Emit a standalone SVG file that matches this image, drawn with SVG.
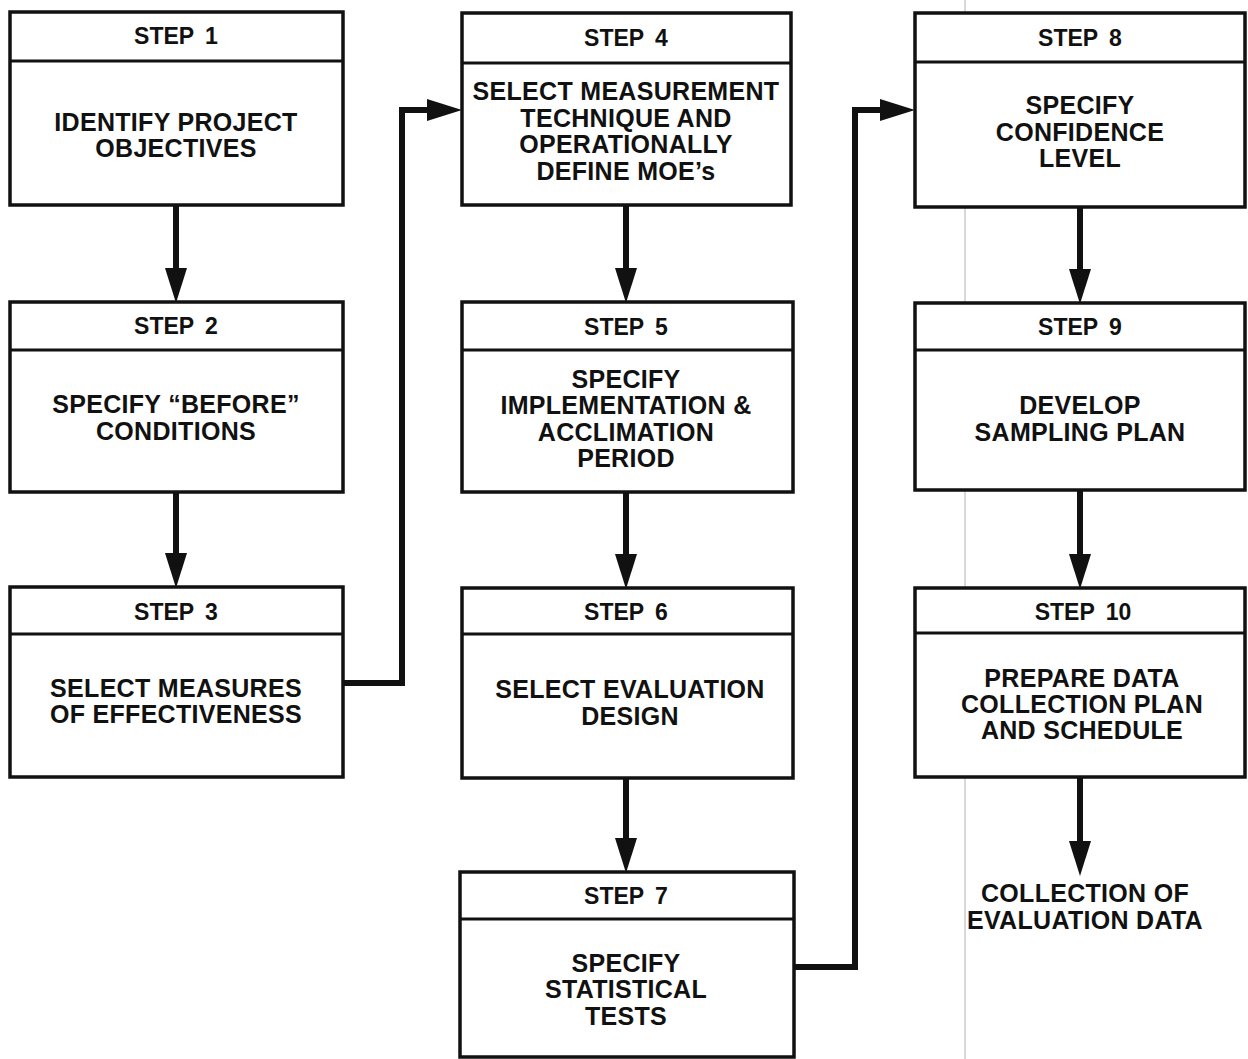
<svg xmlns="http://www.w3.org/2000/svg" width="1248" height="1059" viewBox="0 0 1248 1059">
  <style>
    .box { fill: #fff; stroke: #111; stroke-width: 3.5; }
    .div { stroke: #111; stroke-width: 3; }
    .hd { font-family: "Liberation Sans", Arial, Helvetica, sans-serif; font-weight: bold; font-size: 23px; word-spacing: 5px; text-anchor: middle; fill: #111; }
    .bd { font-family: "Liberation Sans", Arial, Helvetica, sans-serif; font-weight: bold; font-size: 25px; letter-spacing: 0.3px; text-anchor: middle; fill: #111; }
    .wire { stroke: #111; stroke-width: 6; fill: none; marker-end: url(#head); }
  </style>
  <defs>
    <marker id="head" markerUnits="userSpaceOnUse" markerWidth="38" markerHeight="26" viewBox="0 -13 38 26" refX="4" refY="0" orient="auto">
      <path d="M0,-11 L35,0 L0,11 Z" fill="#111"/>
    </marker>
  </defs>
  <rect width="1248" height="1059" fill="#fff"/>

  <!-- faint vertical rule in the right column -->
  <line x1="965" y1="0" x2="965" y2="1059" stroke="#b0b0b0" stroke-width="1"/>

  <g id="connectors">
    <line class="wire" x1="176" y1="205" x2="176" y2="272"/>
    <line class="wire" x1="176" y1="492" x2="176" y2="557"/>
    <path class="wire" d="M343,683 H402 V110 H431"/>
    <line class="wire" x1="626" y1="205" x2="626" y2="272"/>
    <line class="wire" x1="626" y1="492" x2="626" y2="558"/>
    <line class="wire" x1="626" y1="778" x2="626" y2="842"/>
    <path class="wire" d="M794,967 H855 V110 H884"/>
    <line class="wire" x1="1080" y1="207" x2="1080" y2="273"/>
    <line class="wire" x1="1080" y1="490" x2="1080" y2="558"/>
    <line class="wire" x1="1080" y1="777" x2="1080" y2="845"/>
  </g>

  <g id="step1">
    <rect class="box" x="10" y="12" width="333" height="193"/>
    <line class="div" x1="10" y1="61" x2="343" y2="61"/>
    <text class="hd" x="176" y="44">STEP 1</text>
    <text class="bd" x="176" y="131">IDENTIFY PROJECT</text>
    <text class="bd" x="176" y="157">OBJECTIVES</text>
  </g>

  <g id="step2">
    <rect class="box" x="10" y="302" width="333" height="190"/>
    <line class="div" x1="10" y1="350" x2="343" y2="350"/>
    <text class="hd" x="176" y="334">STEP 2</text>
    <text class="bd" x="176" y="413">SPECIFY “BEFORE”</text>
    <text class="bd" x="176" y="440">CONDITIONS</text>
  </g>

  <g id="step3">
    <rect class="box" x="10" y="587" width="333" height="190"/>
    <line class="div" x1="10" y1="634" x2="343" y2="634"/>
    <text class="hd" x="176" y="620">STEP 3</text>
    <text class="bd" x="176" y="697">SELECT MEASURES</text>
    <text class="bd" x="176" y="723">OF EFFECTIVENESS</text>
  </g>

  <g id="step4">
    <rect class="box" x="462" y="13" width="329" height="192"/>
    <line class="div" x1="462" y1="63" x2="791" y2="63"/>
    <text class="hd" x="626" y="46">STEP 4</text>
    <text class="bd" x="626" y="100">SELECT MEASUREMENT</text>
    <text class="bd" x="626" y="127">TECHNIQUE AND</text>
    <text class="bd" x="626" y="153">OPERATIONALLY</text>
    <text class="bd" x="626" y="180">DEFINE MOE’s</text>
  </g>

  <g id="step5">
    <rect class="box" x="462" y="302" width="331" height="190"/>
    <line class="div" x1="462" y1="350" x2="793" y2="350"/>
    <text class="hd" x="626" y="335">STEP 5</text>
    <text class="bd" x="626" y="388">SPECIFY</text>
    <text class="bd" x="626" y="414">IMPLEMENTATION &amp;</text>
    <text class="bd" x="626" y="441">ACCLIMATION</text>
    <text class="bd" x="626" y="467">PERIOD</text>
  </g>

  <g id="step6">
    <rect class="box" x="462" y="588" width="331" height="190"/>
    <line class="div" x1="462" y1="634" x2="793" y2="634"/>
    <text class="hd" x="626" y="620">STEP 6</text>
    <text class="bd" x="630" y="698">SELECT EVALUATION</text>
    <text class="bd" x="630" y="725">DESIGN</text>
  </g>

  <g id="step7">
    <rect class="box" x="460" y="872" width="334" height="185"/>
    <line class="div" x1="460" y1="919" x2="794" y2="919"/>
    <text class="hd" x="626" y="904">STEP 7</text>
    <text class="bd" x="626" y="972">SPECIFY</text>
    <text class="bd" x="626" y="998">STATISTICAL</text>
    <text class="bd" x="626" y="1025">TESTS</text>
  </g>

  <g id="step8">
    <rect class="box" x="915" y="13" width="330" height="194"/>
    <line class="div" x1="915" y1="62" x2="1245" y2="62"/>
    <text class="hd" x="1080" y="46">STEP 8</text>
    <text class="bd" x="1080" y="114">SPECIFY</text>
    <text class="bd" x="1080" y="141">CONFIDENCE</text>
    <text class="bd" x="1080" y="167">LEVEL</text>
  </g>

  <g id="step9">
    <rect class="box" x="915" y="303" width="330" height="187"/>
    <line class="div" x1="915" y1="350" x2="1245" y2="350"/>
    <text class="hd" x="1080" y="335">STEP 9</text>
    <text class="bd" x="1080" y="414">DEVELOP</text>
    <text class="bd" x="1080" y="441">SAMPLING PLAN</text>
  </g>

  <g id="step10">
    <rect class="box" x="915" y="588" width="330" height="189"/>
    <line class="div" x1="915" y1="633" x2="1245" y2="633"/>
    <text class="hd" x="1083" y="620">STEP 10</text>
    <text class="bd" x="1082" y="687">PREPARE DATA</text>
    <text class="bd" x="1082" y="713">COLLECTION PLAN</text>
    <text class="bd" x="1082" y="739">AND SCHEDULE</text>
  </g>

  <g id="collection">
    <text class="bd" x="1085" y="902">COLLECTION OF</text>
    <text class="bd" x="1085" y="929">EVALUATION DATA</text>
  </g>
</svg>
